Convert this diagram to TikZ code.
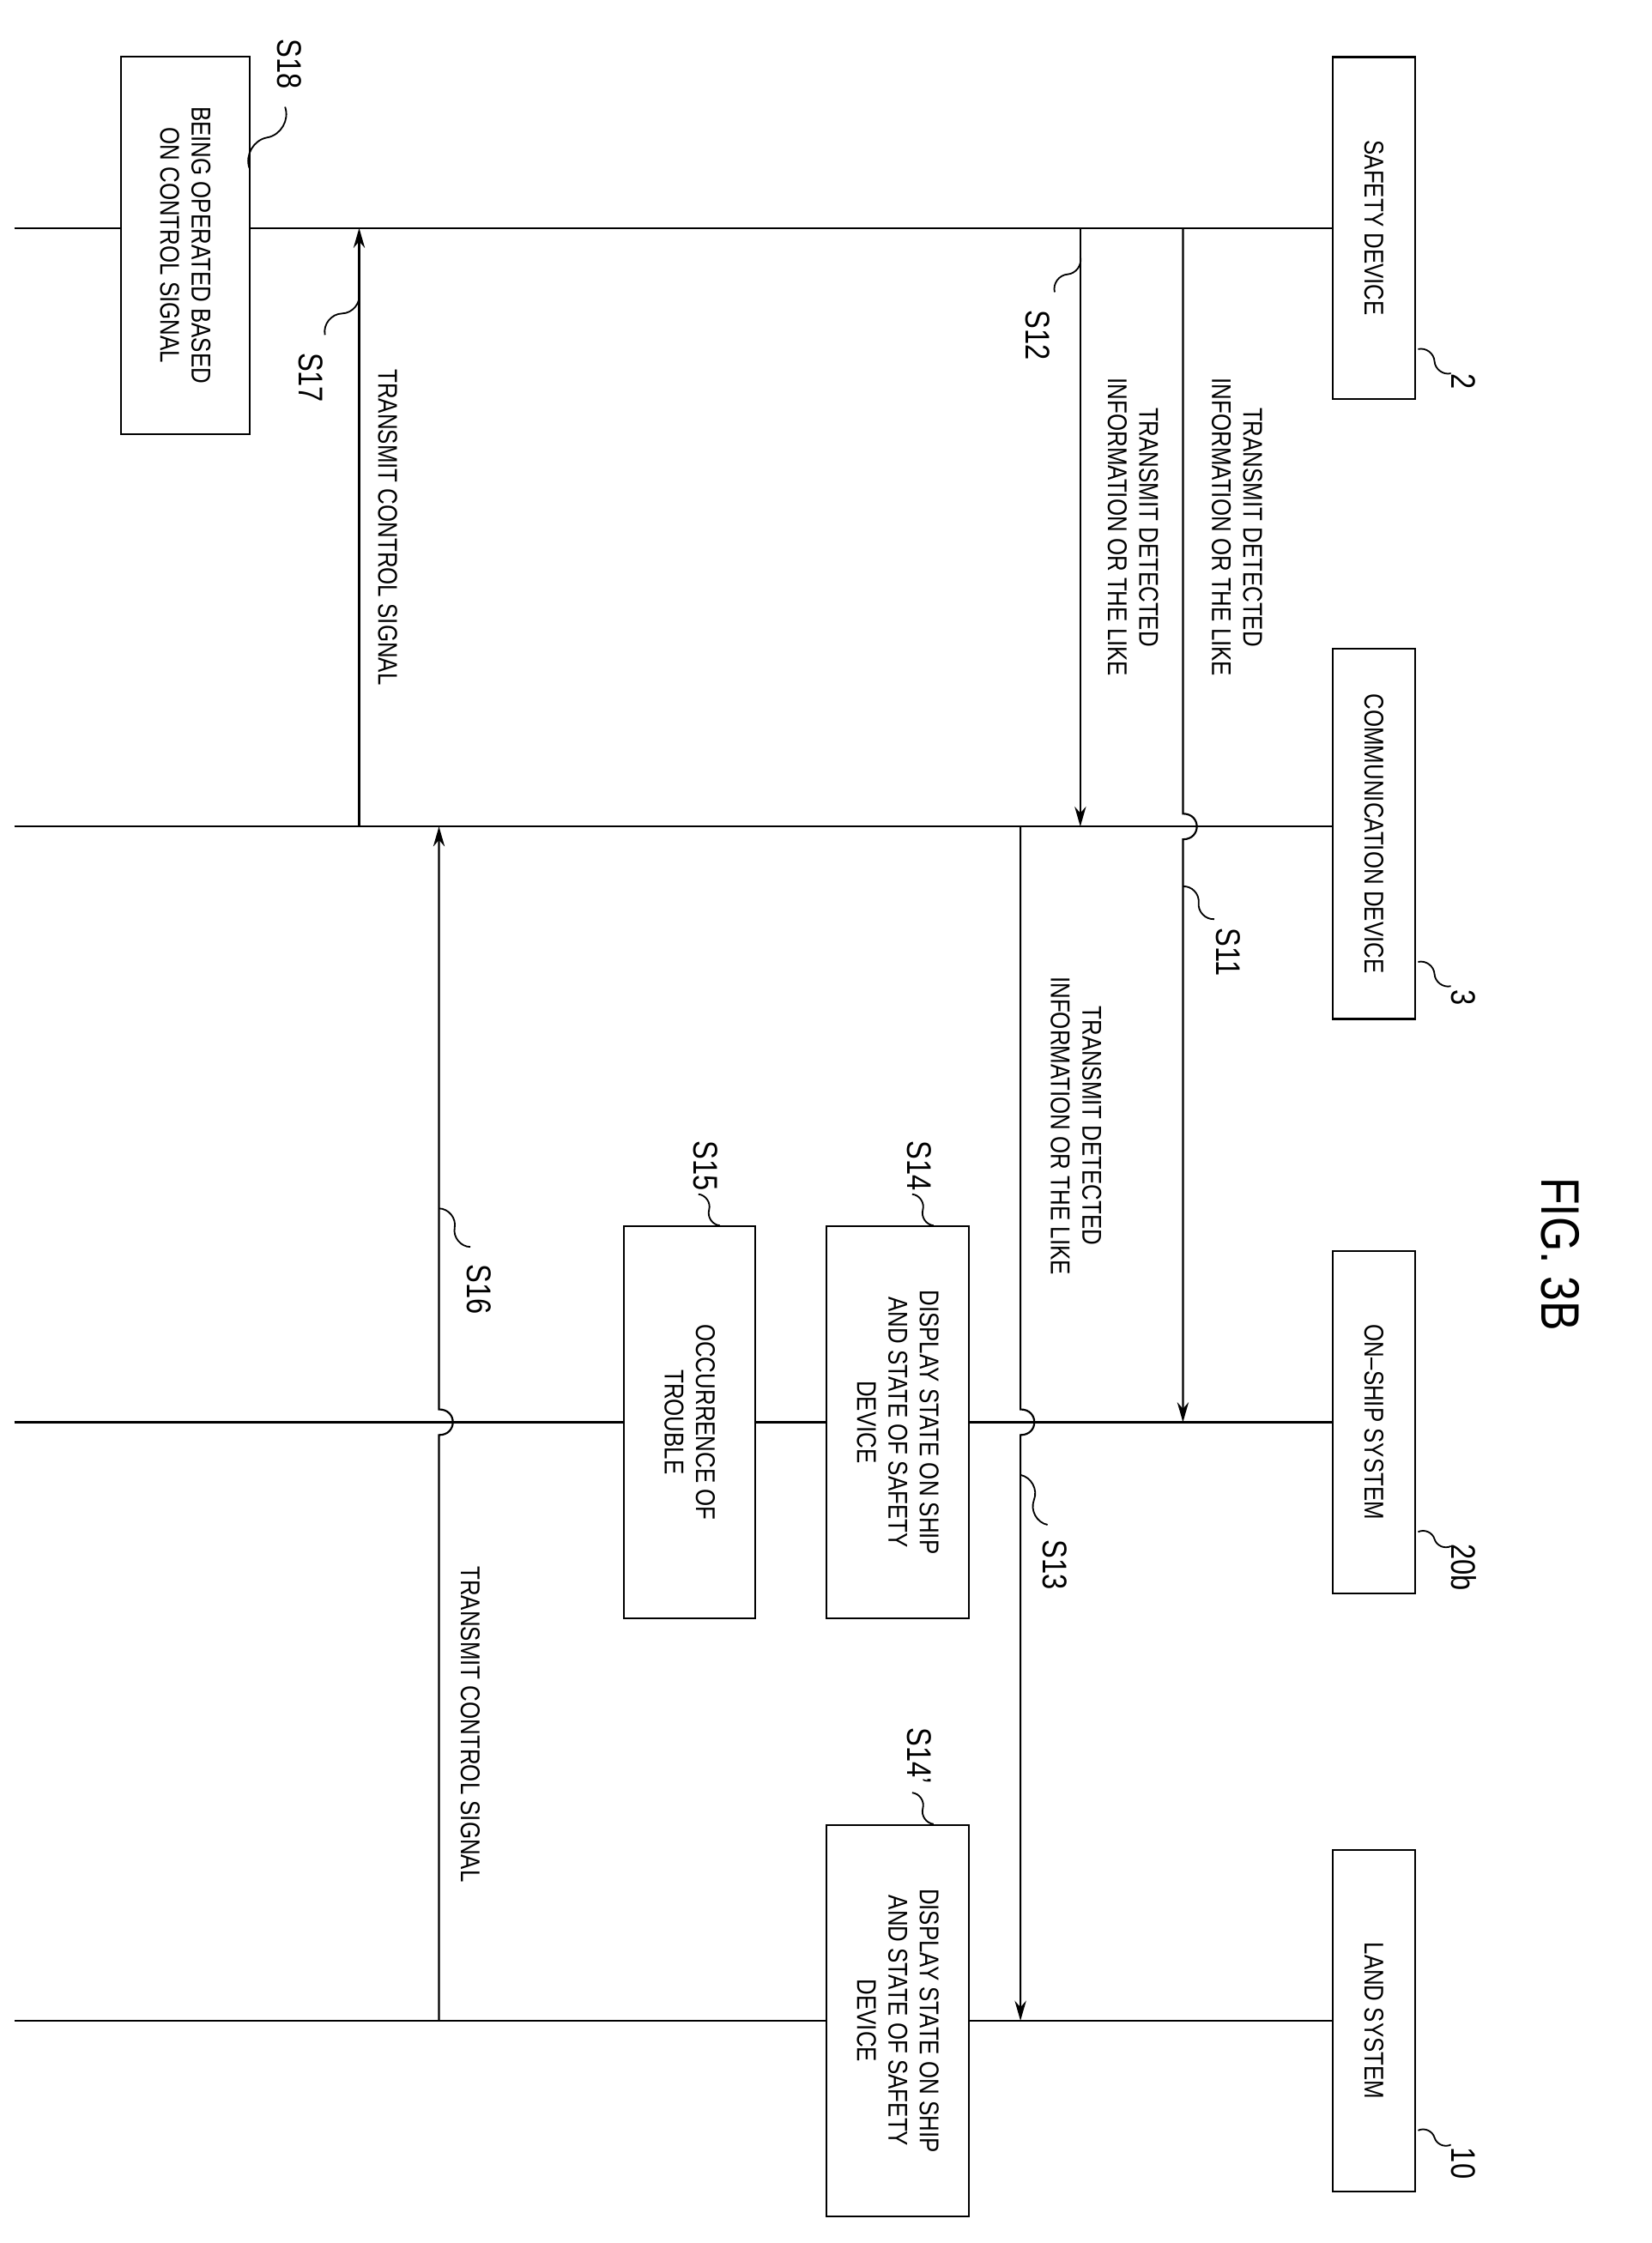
\documentclass[tikz,border=0pt]{standalone}
\usepackage{fontspec}
\setmainfont{Liberation Sans}[FakeStretch=0.82]
\usetikzlibrary{arrows.meta,calc}
\newcommand\sqg[2]{\draw[line width=1.1pt] (#1) to[bend left=50] ($(#1)!0.5!(#2)$) to[bend right=50] (#2);}
\begin{document}
\begin{tikzpicture}[x=1pt,y=-1pt,line width=1.3pt,
  txt/.style={rotate=-90,font=\fontsize{19}{22}\selectfont,align=center,inner sep=2pt},
  lbl/.style={rotate=-90,font=\fontsize{24}{26}\selectfont,inner sep=1pt},
  hdr/.style={draw,rotate=-90,minimum width=240pt,minimum height=58pt,font=\fontsize{19}{22}\selectfont,align=center},
  box/.style={draw,rotate=-90,minimum width=275pt,font=\fontsize{19}{22}\selectfont,align=center},
  arr/.style={-{Stealth[length=14pt,width=8pt]}}]
\useasboundingbox (0,0) rectangle (1159,1574);
% headers
\node[hdr] (h1) at (964,160) {SAFETY DEVICE};
\node[hdr,minimum width=260pt] (h2) at (964,585) {COMMUNICATION DEVICE};
\node[hdr] (h3) at (964,998) {ON--SHIP SYSTEM};
\node[hdr] (h4) at (964,1418) {LAND SYSTEM};
\node[lbl] (n2) at (1027,268) {2};
\node[lbl] (n3) at (1027,700) {3};
\node[lbl] (n20) at (1027,1100) {20b};
\node[lbl] (n10) at (1027,1518) {10};
\sqg{995,245}{1018,262}
\sqg{995,675}{1018,692}
\sqg{995,1075}{1018,1085}
\sqg{995,1495}{1018,1505}
\node[rotate=-90,font=\fontsize{38}{40}\selectfont] (fig) at (1095,880) {FIG. 3B};
% lifelines
\coordinate (l1a) at (10,160); \coordinate (l1b) at (935,160);
\coordinate (l2a) at (10,580); \coordinate (l2b) at (935,580);
\coordinate (l3a) at (10,998); \coordinate (l3b) at (935,998);
\coordinate (l4a) at (10,1418); \coordinate (l4b) at (935,1418);
\draw (l1a)--(l1b); \draw (l2a)--(l2b); \draw (l3a)--(l3b); \draw (l4a)--(l4b);
% S11
\draw[arr] (830,160) -- (830,571) .. controls (843,571) and (843,589) .. (830,589) -- (830,998);
\node[txt] (t11) at (868,370) {TRANSMIT DETECTED\\INFORMATION OR THE LIKE};
\node[lbl] (s11) at (862,668) {S11}; \sqg{830,622}{852,645}
% S12
\draw[arr] (758,160) -- (758,580);
\node[txt] (t12) at (795,370) {TRANSMIT DETECTED\\INFORMATION OR THE LIKE};
\node[lbl] (s12) at (728,235) {S12}; \sqg{740,205}{758,180}
% S13
\draw[arr] (716,580) -- (716,989) .. controls (729,989) and (729,1007) .. (716,1007) -- (716,1418);
\node[txt] (t13) at (755,790) {TRANSMIT DETECTED\\INFORMATION OR THE LIKE};
\node[lbl] (s13) at (740,1098) {S13}; \sqg{716,1035}{735,1070}
% S16
\draw[arr] (308,1418) -- (308,1007) .. controls (321,1007) and (321,989) .. (308,989) -- (308,580);
\node[txt] (t16) at (330,1210) {TRANSMIT CONTROL SIGNAL};
\node[lbl] (s16) at (336,905) {S16}; \sqg{308,848}{330,875}
% S17
\draw[arr] (252,580) -- (252,160);
\node[txt] (t17) at (272,370) {TRANSMIT CONTROL SIGNAL};
\node[lbl] (s17) at (218,265) {S17}; \sqg{228,235}{252,205}
% boxes
\node[box,minimum width=265pt,minimum height=90pt,fill=white] (b18) at (130,172) {BEING OPERATED BASED\\ON CONTROL SIGNAL};
\node[lbl] (s18) at (203,45) {S18}; \sqg{200,75}{175,118}
\node[box,minimum height=100pt,fill=white] (b14) at (630,998) {DISPLAY STATE ON SHIP\\AND STATE OF SAFETY\\DEVICE};
\node[lbl] (s14) at (645,818) {S14}; \sqg{640,838}{655,860}
\node[box,minimum height=92pt,fill=white] (b15) at (484,998) {OCCURRENCE OF\\TROUBLE};
\node[lbl] (s15) at (495,818) {S15}; \sqg{490,838}{505,860}
\node[box,minimum height=100pt,fill=white] (b14b) at (630,1418) {DISPLAY STATE ON SHIP\\AND STATE OF SAFETY\\DEVICE};
\node[lbl] (s14b) at (645,1232) {S14'}; \sqg{640,1258}{655,1280}
\end{tikzpicture}
\end{document}
